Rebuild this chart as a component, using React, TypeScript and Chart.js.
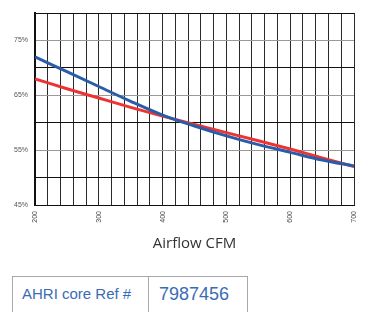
import React, { useEffect, useRef } from "react";
import { Chart, registerables } from "chart.js";

Chart.register(...registerables);

const CFM = [200, 250, 300, 350, 400, 450, 500, 550, 600, 650, 700];
const BLUE_SERIES = [72.0, 69.3, 66.6, 63.9, 61.4, 59.4, 57.6, 56.0, 54.6, 53.2, 52.1];
const RED_SERIES = [68.0, 66.2, 64.5, 62.8, 61.2, 59.7, 58.2, 56.7, 55.2, 53.6, 52.0];
const X_TICK_LABELS = [200, 300, 400, 500, 600, 700];
const Y_TICK_LABELS = [45, 55, 65, 75];
const X_AXIS_TITLE = "Airflow CFM";
const REF_LABEL = "AHRI core Ref #";
const REF_VALUE = "7987456";

const xLabelPlugin = {
  id: "xLabelPlugin",
  afterDraw(chart: any) {
    const ctx = chart.ctx;
    const xs = chart.scales.x;
    ctx.save();
    ctx.font = '7px "Liberation Sans", Arial, sans-serif';
    ctx.fillStyle = "#444";
    ctx.textAlign = "right";
    ctx.textBaseline = "middle";
    for (const v of X_TICK_LABELS) {
      const px = xs.getPixelForValue(v);
      ctx.save();
      ctx.translate(px, chart.chartArea.bottom + 6);
      ctx.rotate(-Math.PI / 2);
      ctx.fillText(String(v), 0, 0);
      ctx.restore();
    }
    ctx.restore();
  },
};

export default function App() {
  const ref = useRef<HTMLCanvasElement | null>(null);

  useEffect(() => {
    if (!ref.current) return;
    const chart = new Chart(ref.current, {
      type: "line",
      data: {
        datasets: [
          {
            label: "Blue",
            data: CFM.map((x, i) => ({ x, y: BLUE_SERIES[i] })),
            borderColor: "#2a5ca8",
            borderWidth: 3,
            pointRadius: 0,
            cubicInterpolationMode: "monotone",
            fill: false,
          },
          {
            label: "Red",
            data: CFM.map((x, i) => ({ x, y: RED_SERIES[i] })),
            borderColor: "#ec3434",
            borderWidth: 3,
            pointRadius: 0,
            cubicInterpolationMode: "monotone",
            fill: false,
          },
        ],
      },
      options: {
        responsive: false,
        animation: false,
        devicePixelRatio: 1,
        layout: { padding: { top: 13, right: 20, left: 0, bottom: 0 } },
        plugins: {
          legend: { display: false },
          tooltip: { enabled: false },
          title: { display: false },
        },
        scales: {
          x: {
            type: "linear",
            min: 200,
            max: 700,
            afterFit: (s: any) => {
              s.height = 57;
            },
            ticks: { display: false, stepSize: 20 },
            grid: { color: "#2a2a2a", lineWidth: 1, drawTicks: false },
            border: { display: true, color: "#111", width: 1 },
          },
          y: {
            type: "linear",
            min: 45,
            max: 80,
            afterFit: (s: any) => {
              s.width = 35;
            },
            ticks: {
              stepSize: 5,
              padding: 7,
              color: "#555",
              font: { size: 7, family: '"Liberation Sans", Arial, sans-serif' },
              callback: (v: any) => (Y_TICK_LABELS.includes(Number(v)) ? v + "%" : ""),
            },
            grid: {
              drawTicks: false,
              lineWidth: 1,
              color: (c: any) =>
                c.tick && Y_TICK_LABELS.includes(c.tick.value) ? "#9a9a9a" : "#111",
            },
            border: { display: true, color: "#111", width: 2 },
          },
        },
      },
      plugins: [xLabelPlugin],
    });
    return () => chart.destroy();
  }, []);

  return (
    <div
      style={{
        position: "absolute",
        left: 0,
        top: 0,
        width: 374,
        height: 312,
        background: "#fff",
        overflow: "hidden",
      }}
    >
      <canvas ref={ref} width={374} height={262} style={{ display: "block" }} />
      <div
        style={{
          position: "absolute",
          left: 35,
          width: 319,
          top: 233,
          textAlign: "center",
          fontFamily: '"Open Sans", sans-serif',
          fontSize: 15,
          lineHeight: "18px",
          color: "#333",
        }}
      >
        {X_AXIS_TITLE}
      </div>
      <div
        style={{
          position: "absolute",
          left: 12,
          top: 276,
          width: 236,
          height: 60,
          boxSizing: "border-box",
          border: "1.5px solid #a8a8a8",
          display: "flex",
          fontFamily: '"Liberation Sans", Arial, sans-serif',
          color: "#3a6cb5",
        }}
      >
        <div
          style={{
            width: 136,
            boxSizing: "border-box",
            borderRight: "1.5px solid #a8a8a8",
            paddingLeft: 9,
            paddingTop: 8,
            fontSize: 15,
            lineHeight: "18px",
          }}
        >
          {REF_LABEL}
        </div>
        <div
          style={{
            flex: 1,
            paddingLeft: 10,
            paddingTop: 6,
            fontSize: 18,
            lineHeight: "22px",
          }}
        >
          {REF_VALUE}
        </div>
      </div>
    </div>
  );
}
